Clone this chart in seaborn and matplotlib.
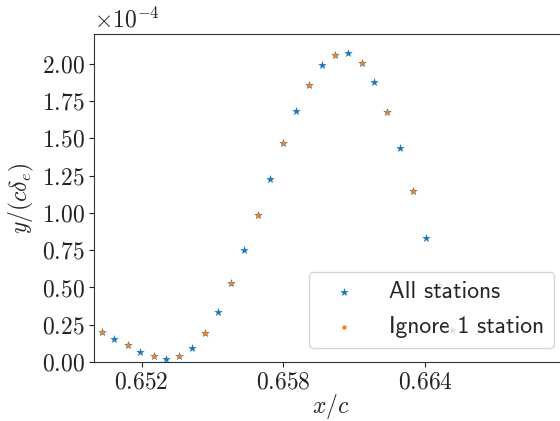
import matplotlib
matplotlib.use("Agg")
import matplotlib.pyplot as plt
import seaborn as sns
import pandas as pd

# ---- data (y in units of 1e-4) ----
x_all = [0.65031, 0.65084, 0.65141, 0.65193, 0.65251, 0.65304, 0.65358, 0.65413,
         0.65469, 0.65524, 0.65579, 0.65631, 0.65691, 0.65744, 0.65799, 0.65853,
         0.65909, 0.65964, 0.66019, 0.66073, 0.66131, 0.66184, 0.66239, 0.66293,
         0.66349, 0.66404, 0.66458, 0.66513]
y_all = [0.199, 0.154, 0.112, 0.069, 0.040, 0.022, 0.040, 0.094,
         0.192, 0.338, 0.528, 0.749, 0.989, 1.230, 1.470, 1.685,
         1.857, 1.991, 2.058, 2.072, 2.004, 1.875, 1.680, 1.434,
         1.145, 0.834, 0.515, 0.213]
x_ign = [0.65031, 0.65141, 0.65251, 0.65358, 0.65469, 0.65579, 0.65691,
         0.65799, 0.65909, 0.66019, 0.66131, 0.66239, 0.66349, 0.66458]
y_ign = [0.199, 0.112, 0.040, 0.040, 0.192, 0.528, 0.989,
         1.470, 1.857, 2.058, 2.004, 1.680, 1.145, 0.515]
labels = ["All stations", "Ignore 1 station"]
xticks = [0.652, 0.658, 0.664]
yticks = [0.00, 0.25, 0.50, 0.75, 1.00, 1.25, 1.50, 1.75, 2.00]

sns.set_style("ticks")
plt.rcParams["font.family"] = ["cmr10", "DejaVu Sans"]
plt.rcParams["mathtext.fontset"] = "cm"
plt.rcParams["axes.formatter.use_mathtext"] = True
plt.rcParams["axes.unicode_minus"] = False

fig = plt.figure(figsize=(5.6, 4.21), dpi=100)
ax = fig.add_axes([94.4 / 560, 59 / 421, 472.7 / 560, 328 / 421])

df_all = pd.DataFrame({"x": x_all, "y": y_all})
df_ign = pd.DataFrame({"x": x_ign, "y": y_ign})
sns.scatterplot(data=df_all, x="x", y="y", ax=ax, marker="*", s=42,
                color="#1f77b4", linewidth=0, label=labels[0])
sns.scatterplot(data=df_ign, x="x", y="y", ax=ax, marker="o", s=10,
                color="#ff7f0e", linewidth=0, label=labels[1])

ax.set_xlim(0.650, 0.670)
ax.set_ylim(0, 2.2)
ax.set_xticks(xticks)
ax.set_xticklabels([f"${v:.3f}$" for v in xticks])
ax.set_yticks(yticks)
ax.set_yticklabels([f"${v:.2f}$" for v in yticks])
ax.tick_params(labelsize=17, colors="#222222")
for s in ax.spines.values():
    s.set_color("#333333")
ax.set_xlabel(r"$x/c$", fontsize=17, labelpad=-1)
ax.set_ylabel(r"$y/(c\delta_e)$", fontsize=17, labelpad=4)
ax.text(0.0, 1.005, r"$\times10^{-4}$", transform=ax.transAxes, fontsize=17,
        ha="left", va="bottom")

leg = ax.legend(loc="lower right", prop={"family": "cmss10", "size": 17},
                handlelength=2.2, handletextpad=0.8, borderpad=0.4,
                labelspacing=0.55, bbox_to_anchor=(0.997, 0.008))
leg.get_frame().set_edgecolor("#cccccc")

fig.savefig("out.png", dpi=100)
